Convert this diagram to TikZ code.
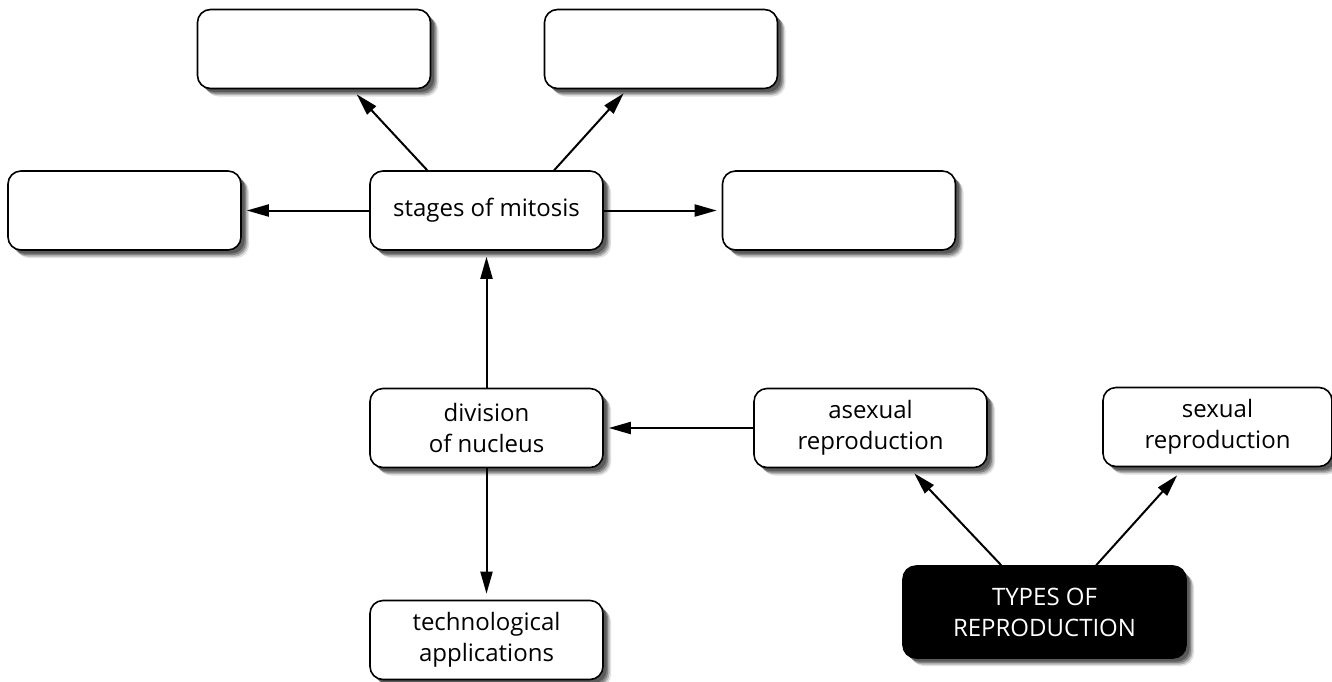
\documentclass[tikz,border=0pt]{standalone}
\usepackage{fontspec}
\setmainfont{Open Sans}
\usetikzlibrary{shadows,arrows.meta,calc}
\begin{document}
\begin{tikzpicture}[x=0.5pt,y=-0.5pt,
  box/.style={draw=black,line width=0.8pt,rounded corners=6.5pt,fill=white,
    minimum width=116.5pt,minimum height=39.5pt,align=center,inner sep=0pt,
    font=\fontsize{12}{15.5}\selectfont,
    drop shadow={shadow xshift=4pt,shadow yshift=-4pt,fill=black,opacity=0.12},
    drop shadow={shadow xshift=3.3pt,shadow yshift=-3.3pt,fill=black,opacity=0.2},
    drop shadow={shadow xshift=2.6pt,shadow yshift=-2.6pt,fill=black,opacity=0.28},
    drop shadow={shadow xshift=1.8pt,shadow yshift=-1.8pt,fill=black,opacity=0.3}},
  darkbox/.style={box,fill=black,text=white},
  arr/.style={line width=1pt,-{Triangle[length=11pt,width=6pt]}}]
\useasboundingbox (0,0) rectangle (1332,681);
\node[box] (tl) at (314,49) {};
\node[box] (tr) at (661,49) {};
\node[box] (lf) at (124.5,210.5) {};
\node[box] (stages) at (486.5,210.5) {stages of mitosis};
\node[box] (rt) at (839,210.5) {};
\node[box] (div) at (486.5,428) {division\\of nucleus};
\node[box] (asex) at (870.5,428) {asexual\\reproduction};
\node[box,minimum width=114.5pt] (sex) at (1217.5,427) {sexual\\reproduction};
\node[box] (tech) at (486.5,640) {technological\\applications};
\node[darkbox,minimum width=141.5pt,minimum height=46pt] (types) at (1044.5,612) {TYPES OF\\REPRODUCTION};
% connectors
\coordinate (s1) at ($(stages.north west)+(58,0)$);
\coordinate (e1) at ($(tl.south west)+(160,5)$);
\draw[arr] (s1) -- (e1);
\coordinate (s2) at ($(stages.north west)+(185,0)$);
\coordinate (e2) at ($(tr.south west)+(80,4)$);
\draw[arr] (s2) -- (e2);
\draw[arr,shorten >=2.5pt] (stages.west) -- (lf.east);
\draw[arr,shorten >=2.5pt] (stages.east) -- (rt.west);
\draw[arr,shorten >=3pt] (div.north) -- (stages.south);
\draw[arr,shorten >=3pt] (div.south) -- (tech.north);
\draw[arr,shorten >=2.5pt] (asex.west) -- (div.east);
\coordinate (s3) at ($(types.north west)+(99,0)$);
\coordinate (e3) at ($(asex.south west)+(161,5)$);
\draw[arr] (s3) -- (e3);
\coordinate (s4) at ($(types.north west)+(194,0)$);
\coordinate (e4) at ($(sex.south west)+(75,8)$);
\draw[arr] (s4) -- (e4);
\end{tikzpicture}
\end{document}
